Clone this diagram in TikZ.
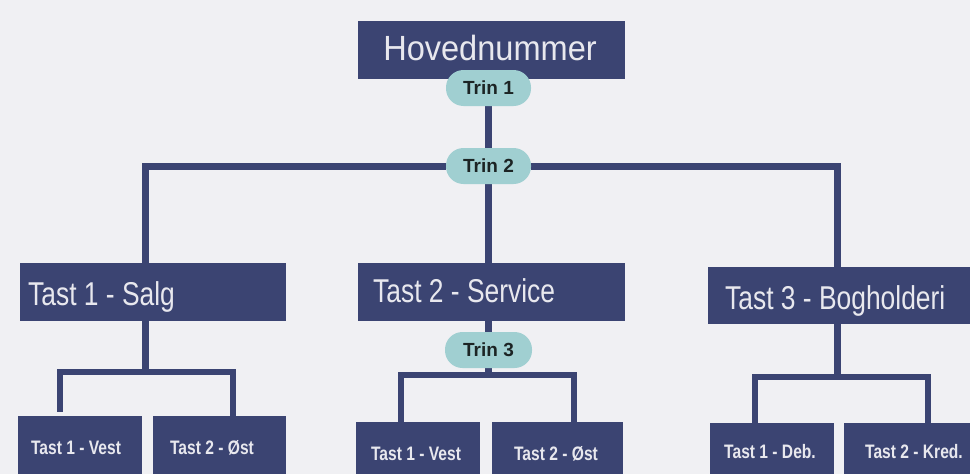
\documentclass[tikz,border=0pt]{standalone}
\usepackage{fontspec}
\setmainfont{Liberation Sans}
\newfontfamily\narrowf[FakeStretch=0.8]{Liberation Sans}
\newfontfamily\smallf[FakeStretch=0.8]{Liberation Sans}
\newfontfamily\headf[FakeStretch=0.93]{Liberation Sans}
\usetikzlibrary{backgrounds}
\definecolor{navy}{HTML}{3B4472}
\definecolor{pillc}{HTML}{A0CFD1}
\definecolor{bgc}{HTML}{F0F0F3}
\definecolor{boxtext}{HTML}{E8E8EE}
\definecolor{pilltext}{HTML}{1C2424}
\tikzset{
  navybox/.style={fill=navy, draw=none, inner sep=0pt},
  pillnode/.style={fill=pillc, draw=none, rounded corners=17.5pt, minimum width=85pt, minimum height=36pt, inner sep=0pt, font=\fontsize{19}{19}\selectfont\bfseries, text=pilltext},
  bigtxt/.style={text=boxtext, inner sep=0pt, font=\narrowf\fontsize{33}{33}\selectfont, anchor=base west},
  smalltxt/.style={text=boxtext, inner sep=0pt, font=\smallf\bfseries\fontsize{19.5}{19.5}\selectfont, anchor=base},
  conn/.style={draw=navy, line width=7pt},
  subconn/.style={draw=navy, line width=6.5pt},
}
\begin{document}
\begin{tikzpicture}[x=1pt,y=-1pt]
\useasboundingbox (0,0) rectangle (970,474);
% top box
\node[navybox, minimum width=267pt, minimum height=58pt] (hov) at (491.5,50) {};
\node[text=boxtext, font=\headf\fontsize{35}{35}\selectfont, anchor=base, inner sep=0pt] (hovt) at (490,60) {Hovednummer};
% level 2 boxes
\node[navybox, minimum width=266pt, minimum height=58pt] (salg) at (153,292) {};
\node[bigtxt] (salgt) at (28,305) {Tast 1 - Salg};
\node[navybox, minimum width=267pt, minimum height=58pt] (svc) at (491.5,292) {};
\node[bigtxt] (svct) at (373,302) {Tast 2 - Service};
\node[navybox, minimum width=262pt, minimum height=57pt] (bog) at (839,295.5) {};
\node[bigtxt] (bogt) at (725,309) {Tast 3 - Bogholderi};
% level 3 boxes
\node[navybox, minimum width=124pt, minimum height=58pt] (v1) at (80,445) {};
\node[smalltxt] (v1t) at (76,454) {Tast 1 - Vest};
\node[navybox, minimum width=133pt, minimum height=58pt] (o1) at (219.5,445) {};
\node[smalltxt] (o1t) at (212,454) {Tast 2 - Øst};
\node[navybox, minimum width=124pt, minimum height=52pt] (v2) at (418,448) {};
\node[smalltxt] (v2t) at (416,460) {Tast 1 - Vest};
\node[navybox, minimum width=131pt, minimum height=52pt] (o2) at (557.5,448) {};
\node[smalltxt] (o2t) at (556,460) {Tast 2 - Øst};
\node[navybox, minimum width=124pt, minimum height=51pt] (deb) at (772,448.5) {};
\node[smalltxt] (debt) at (770,458) {Tast 1 - Deb.};
\node[navybox, minimum width=126pt, minimum height=51pt] (kred) at (907,448.5) {};
\node[smalltxt] (kredt) at (914,458) {Tast 2 - Kred.};
% pills
\node[pillnode] (trin1) at (488.5,88) {Trin 1};
\node[pillnode] (trin2) at (488.5,166) {Trin 2};
\node[pillnode, minimum width=87pt] (trin3) at (488.5,350) {Trin 3};
% junction points
\coordinate (sl) at (145,166);
\coordinate (br) at (837,166);
\coordinate (sj) at (145,372);
\coordinate (vj) at (488.5,375);
\coordinate (bj) at (837,377);
\begin{pgfonlayer}{background}
  \fill[bgc] (0,0) rectangle (970,474);
  \draw[conn] (trin1) -- (trin2);
  \draw[conn] (trin2) -- (trin2 |- svc.north);
  \draw[conn] (trin2) -- (sl) -- (sl |- salg.north);
  \draw[conn] (trin2) -- (br) -- (br |- bog.north);
  % salg subtree
  \draw[conn] (sl |- salg.south) -- (sj);
  \draw[subconn] ([xshift=-20pt,yshift=4pt]v1.north) |- (sj) -| ([xshift=13.5pt]o1.north);
  % service subtree
  \draw[conn] (trin2 |- svc.south) -- (trin3);
  \draw[conn] (trin3) -- (vj);
  \draw[subconn] ([xshift=-17pt]v2.north) |- (vj) -| ([xshift=16.5pt]o2.north);
  % bogholderi subtree
  \draw[conn] (br |- bog.south) -- (bj);
  \draw[subconn] ([xshift=-17pt]deb.north) |- (bj) -| ([xshift=21pt]kred.north);
\end{pgfonlayer}
\end{tikzpicture}
\end{document}
